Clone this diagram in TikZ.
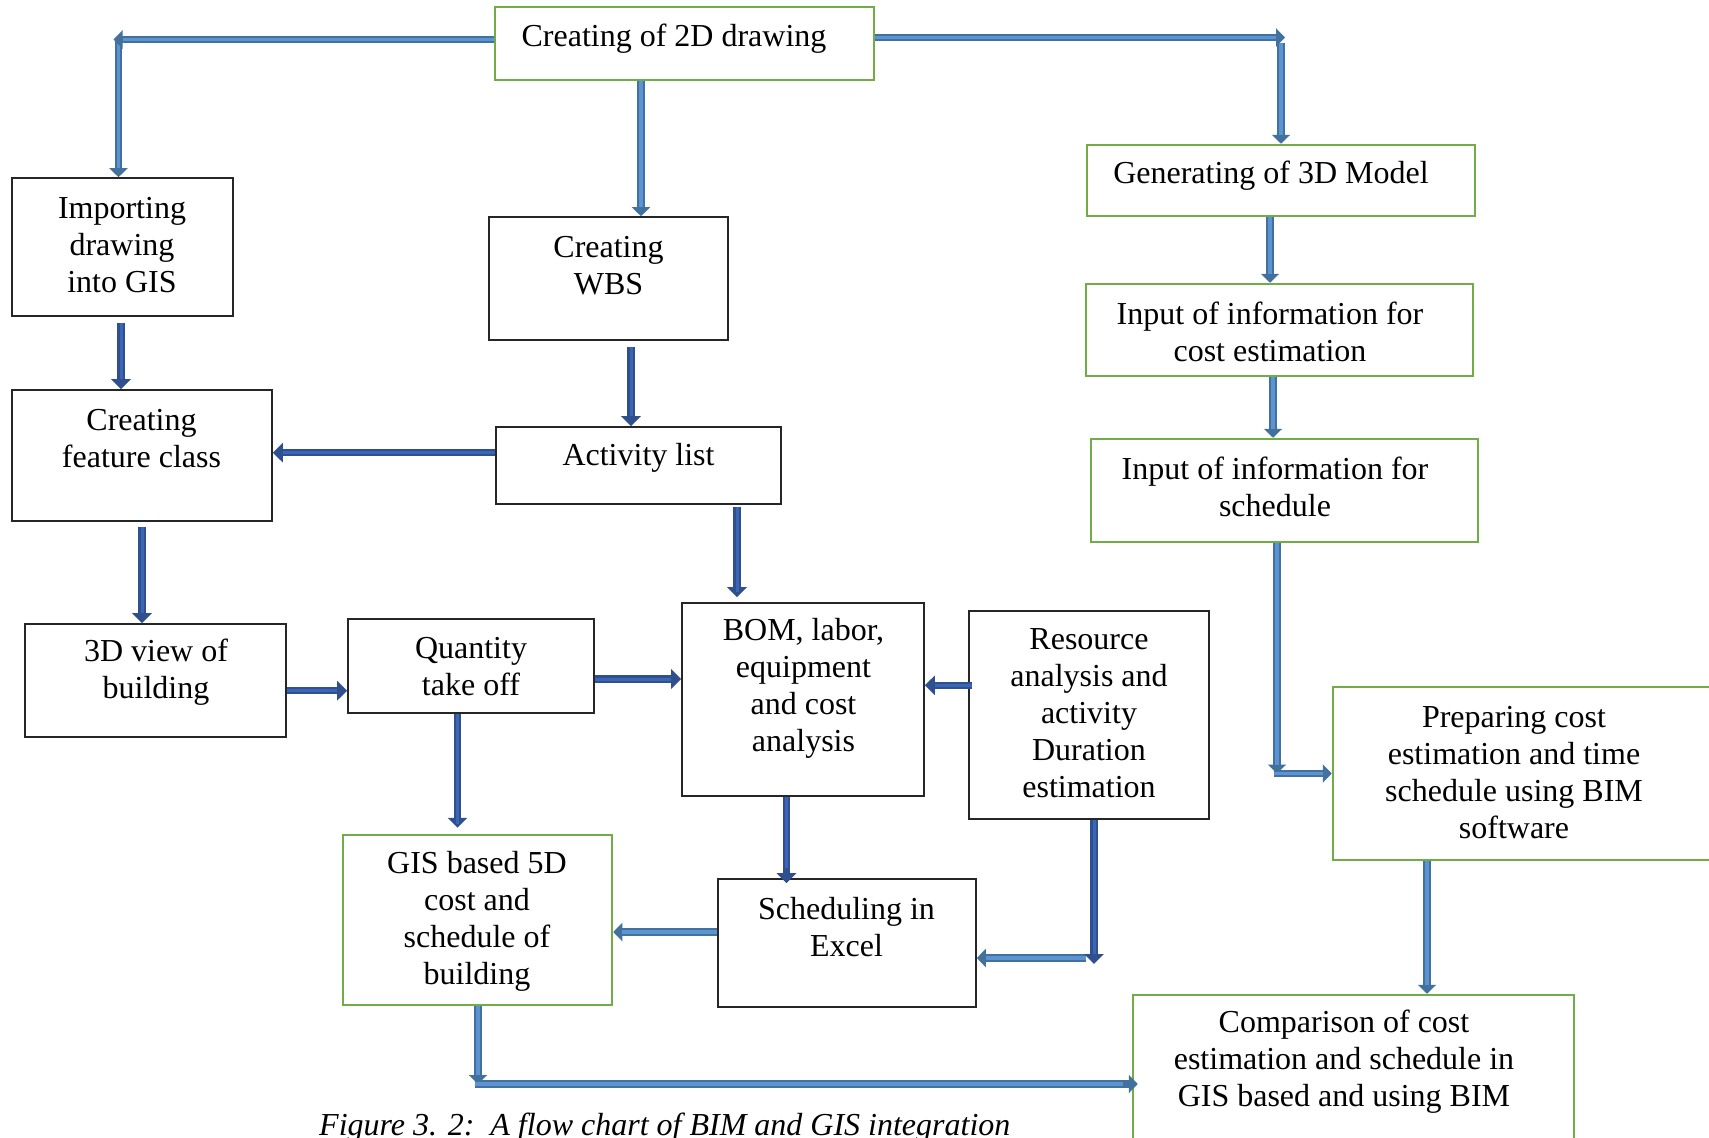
\documentclass[tikz,border=0pt]{standalone}
\usepackage{fontspec}
\setmainfont{Liberation Serif}
\usetikzlibrary{arrows.meta}
\definecolor{grn}{HTML}{70AD47}
\definecolor{arrLo}{HTML}{41719C}
\definecolor{arrLi}{HTML}{5B93D3}
\definecolor{arrDo}{HTML}{2F4F8F}
\definecolor{arrDi}{HTML}{3B66B5}
\begin{document}
\begin{tikzpicture}[x=1pt,y=-1pt,
  gbox/.style={draw=grn, line width=2.5pt, rectangle, inner sep=0pt},
  kbox/.style={draw=black!85, line width=1.6pt, rectangle, inner sep=0pt},
  txt/.style={align=center, inner sep=0pt, font=\fontsize{32}{37}\selectfont},
  arrL/.style={draw=arrLo, line width=7.5pt, -{Triangle[width=18pt,length=9pt]},
    postaction={draw=arrLi, line width=3.5pt, -, shorten >=9pt}},
  arrD/.style={draw=arrDo, line width=7.5pt, -{Triangle[width=19pt,length=10pt]},
    postaction={draw=arrDi, line width=3pt, -, shorten >=10pt}}
]
\useasboundingbox (0,0) rectangle (1709,1138);
\fill[white] (0,0) rectangle (1709,1138);
\clip (0,0) rectangle (1709,1138);

% boxes
\node[gbox, minimum width=379pt, minimum height=73pt]  (b2d)   at (684.5,43.5) {};
\node[gbox, minimum width=388pt, minimum height=71pt]  (bgen)  at (1281,180.5) {};
\node[gbox, minimum width=387pt, minimum height=92pt]  (bcost) at (1279.5,330) {};
\node[gbox, minimum width=387pt, minimum height=103pt] (bsch)  at (1284.5,490.5) {};
\node[gbox, minimum width=382pt, minimum height=173pt] (bprep) at (1524,773.5) {};
\node[gbox, minimum width=441pt, minimum height=155pt] (bcomp) at (1353.5,1072.5) {};
\node[kbox, minimum width=221pt, minimum height=138pt] (bimp)  at (122.5,247) {};
\node[kbox, minimum width=239pt, minimum height=123pt] (bwbs)  at (608.5,278.5) {};
\node[kbox, minimum width=260pt, minimum height=131pt] (bfeat) at (142,455.5) {};
\node[kbox, minimum width=285pt, minimum height=77pt]  (bact)  at (638.5,465.5) {};
\node[kbox, minimum width=261pt, minimum height=113pt] (b3dv)  at (155.5,680.5) {};
\node[kbox, minimum width=246pt, minimum height=94pt]  (bqty)  at (471,666) {};
\node[kbox, minimum width=242pt, minimum height=193pt] (bbom)  at (803,699.5) {};
\node[kbox, minimum width=240pt, minimum height=208pt] (bres)  at (1089,715) {};
\node[kbox, minimum width=258pt, minimum height=128pt] (bexc)  at (847,943) {};
\node[gbox, minimum width=269pt, minimum height=170pt] (bgis)  at (477.5,920) {};

% texts
\node[txt] (t2d)   at (674,39) {Creating of 2D drawing};
\node[txt] (tgen)  at (1271,176) {Generating of 3D Model};
\node[txt] (tcost) at (1270,332) {Input of information for\\cost estimation};
\node[txt] (tsch)  at (1275,487) {Input of information for\\schedule};
\node[txt] (tprep) at (1514,772.5) {Preparing cost\\estimation and time\\schedule using BIM\\software};
\node[txt] (tcomp) at (1344,1062) {Comparison of cost\\estimation and schedule in\\GIS based and using BIM};
\node[txt] (timp)  at (122,245) {Importing\\drawing\\into GIS};
\node[txt] (twbs)  at (608.5,265.5) {Creating\\WBS};
\node[txt] (tfeat) at (141.5,438.5) {Creating\\feature class};
\node[txt] (tact)  at (638.5,458) {Activity list};
\node[txt] (t3dv)  at (156,672.5) {3D view of\\building};
\node[txt] (tqty)  at (471,667) {Quantity\\take off};
\node[txt] (tbom)  at (803.5,688.5) {BOM, labor,\\equipment\\and cost\\analysis};
\node[txt] (tres)  at (1089,713.5) {Resource\\analysis and\\activity\\Duration\\estimation};
\node[txt] (texc)  at (846.5,927.5) {Scheduling in\\Excel};
\node[txt] (tgis)  at (477,921) {GIS based 5D\\cost and\\schedule of\\building};

% corner coordinates
\coordinate (c1) at (118.5,39.5);
\coordinate (c2) at (1281,37.5);
\coordinate (c3) at (1277,773.5);
\coordinate (c4) at (1094,958);
\coordinate (c5) at (478,1084);

% light arrows
\draw[arrL] (c1) -- (c1 |- bimp.north);
\draw[arrL] (b2d.west |- c1) -- ([xshift=-5pt]c1);
\draw[arrL] (b2d.south -| 641,0) -- (bwbs.north -| 641,0);
\draw[arrL] ([yshift=-5pt]c2) -- (c2 |- bgen.north);
\draw[arrL] (b2d.east |- c2) -- ([xshift=4pt]c2);
\draw[arrL] (bgen.south -| 1270,0) -- (bcost.north -| 1270,0);
\draw[arrL] (bcost.south -| 1273,0) -- (bsch.north -| 1273,0);
\draw[arrL] (bsch.south -| c3) -- (c3);
\draw[arrL] ([xshift=-3.5pt]c3) -- (bprep.west);
\draw[arrL] (bprep.south -| 1427,0) -- (bcomp.north -| 1427,0);
\draw[arrL] ([xshift=-8pt]c4) -- (bexc.east |- c4);
\draw[arrL] (bexc.west |- 0,932) -- (bgis.east |- 0,932);
\draw[arrL] (bgis.south -| c5) -- (c5);
\draw[arrL, shorten >=-6pt] ([xshift=-3.5pt]c5) -- (bcomp.west |- c5);

% dark arrows
\draw[arrD] (bres.south -| c4) -- ([yshift=-6pt]c4);
\draw[arrD, shorten <=6pt] (bimp.south -| 121,0) -- (bfeat.north -| 121,0);
\draw[arrD, shorten <=6pt] (bwbs.south -| 631,0) -- (bact.north -| 631,0);
\draw[arrD] (bact.west |- 0,452.7) -- (bfeat.east |- 0,452.7);
\draw[arrD, shorten <=5pt] (bfeat.south -| 142,0) -- (b3dv.north -| 142,0);
\draw[arrD, shorten <=2pt, shorten >=5pt] (bact.south -| 737,0) -- (bbom.north -| 737,0);
\draw[arrD] (b3dv.east |- 0,690.7) -- (bqty.west |- 0,690.7);
\draw[arrD] (bqty.east |- 0,679) -- (bbom.west |- 0,679);
\draw[arrD, shorten >=6pt] (bqty.south -| 457.5,0) -- (bgis.north -| 457.5,0);
\draw[arrD, shorten >=-5pt] (bbom.south -| 786.5,0) -- (bexc.north -| 786.5,0);
\draw[arrD, shorten <=-4pt] (bres.west |- 0,685.3) -- (bbom.east |- 0,685.3);

% caption
\node[anchor=base west, inner sep=0pt, font=\fontsize{32}{37}\selectfont\itshape] (cap)
  at (319,1135) {Figure 3. 2:\ \ A flow chart of BIM and GIS integration};
\end{tikzpicture}
\end{document}
